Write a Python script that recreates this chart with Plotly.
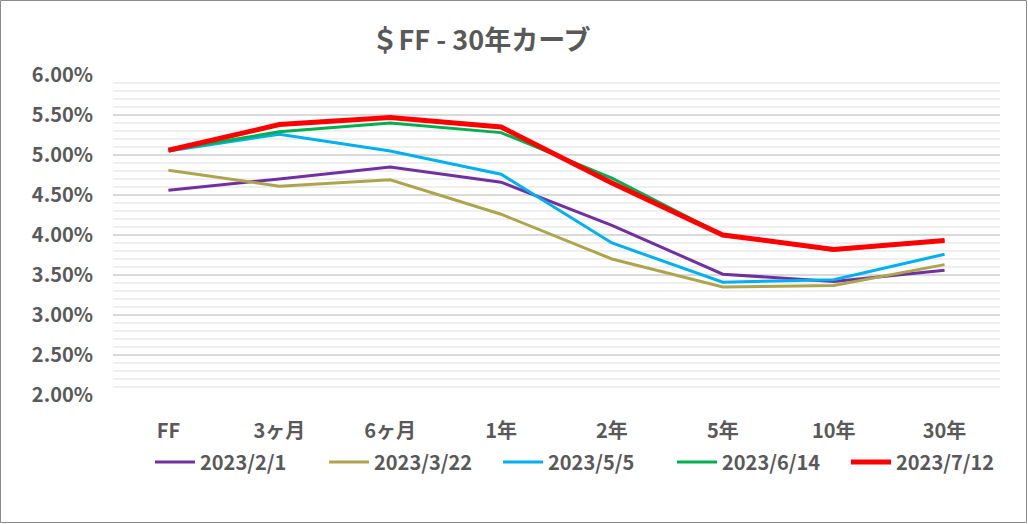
import plotly.graph_objects as go

# カテゴリ(年限)
tenors = ["FF", "3ヶ月", "6ヶ月", "1年", "2年", "5年", "10年", "30年"]

# 各日付の金利カーブ
rate_20230201 = [0.0456, 0.0470, 0.0485, 0.0466, 0.0412, 0.0351, 0.0342, 0.0356]
rate_20230322 = [0.0481, 0.0461, 0.0469, 0.0426, 0.0370, 0.0335, 0.0337, 0.0363]
rate_20230505 = [0.0505, 0.0526, 0.0505, 0.0476, 0.0390, 0.0341, 0.0344, 0.0376]
rate_20230614 = [0.0506, 0.0529, 0.0540, 0.0528, 0.0471, 0.0400, 0.0381, 0.0393]
rate_20230712 = [0.0506, 0.0538, 0.0547, 0.0535, 0.0465, 0.0400, 0.0382, 0.0393]

series = [
    ("2023/2/1", rate_20230201, "#7030A0", 3),
    ("2023/3/22", rate_20230322, "#ADA54D", 3),
    ("2023/5/5", rate_20230505, "#00B0F0", 3),
    ("2023/6/14", rate_20230614, "#00B050", 3),
    ("2023/7/12", rate_20230712, "#FF0000", 5),
]

font_family = "Noto Sans CJK JP"
gray = "#595959"

fig = go.Figure()
for name, vals, color, w in series:
    fig.add_trace(go.Scatter(x=tenors, y=vals, name="<b>" + name + "</b>", mode="lines",
                             line=dict(color=color, width=w)))

# 外枠
L, R, T, B = 113, 28, 75, 129
W, H = 1028, 524
pw, ph = W - L - R, H - T - B
fig.add_shape(type="rect", xref="paper", yref="paper",
              x0=-(L - 0.5) / pw, x1=1 + (R - 1.5) / pw,
              y0=-(B - 1.5) / ph, y1=1 + (T - 0.5) / ph,
              line=dict(color="#8c8c8c", width=1), layer="below")

fig.update_layout(
    width=W, height=H,
    margin=dict(l=L, r=R, t=T, b=B, autoexpand=False),
    paper_bgcolor="white", plot_bgcolor="white",
    font=dict(family=font_family, color=gray, size=16),
    title=dict(text="<b>＄FF - 30年カーブ</b>", x=(481 - L) / pw, xref="paper",
               xanchor="center", y=1 - 41 / H, yanchor="middle",
               font=dict(size=27, color=gray)),
    xaxis=dict(type="category", range=[-0.5, 7.5], showgrid=False, showline=False,
               zeroline=False, ticks="", ticklabelstandoff=22,
               tickfont=dict(size=20, color=gray), tickprefix="<b>", ticksuffix="</b>"),
    yaxis=dict(range=[0.02, 0.06], dtick=0.005, tickformat=".2%",
               showgrid=True, gridcolor="#d9d9d9", gridwidth=2,
               zeroline=False, showline=False, ticks="", ticklabelstandoff=19,
               tickfont=dict(size=20, color=gray), tickprefix="<b>", ticksuffix="</b>",
               minor=dict(dtick=0.001, showgrid=True, gridcolor="#efefef", gridwidth=2)),
    legend=dict(orientation="h", xref="container", x=150 / W, xanchor="left",
                yref="container", y=1 - 462 / H, yanchor="middle",
                font=dict(size=20, color=gray), itemwidth=40,
                entrywidth=119, entrywidthmode="pixels",
                bgcolor="rgba(0,0,0,0)"),
    showlegend=True,
)

fig.write_html("out.html", post_script="document.body.style.margin='0';",
               config={"displayModeBar": False})
